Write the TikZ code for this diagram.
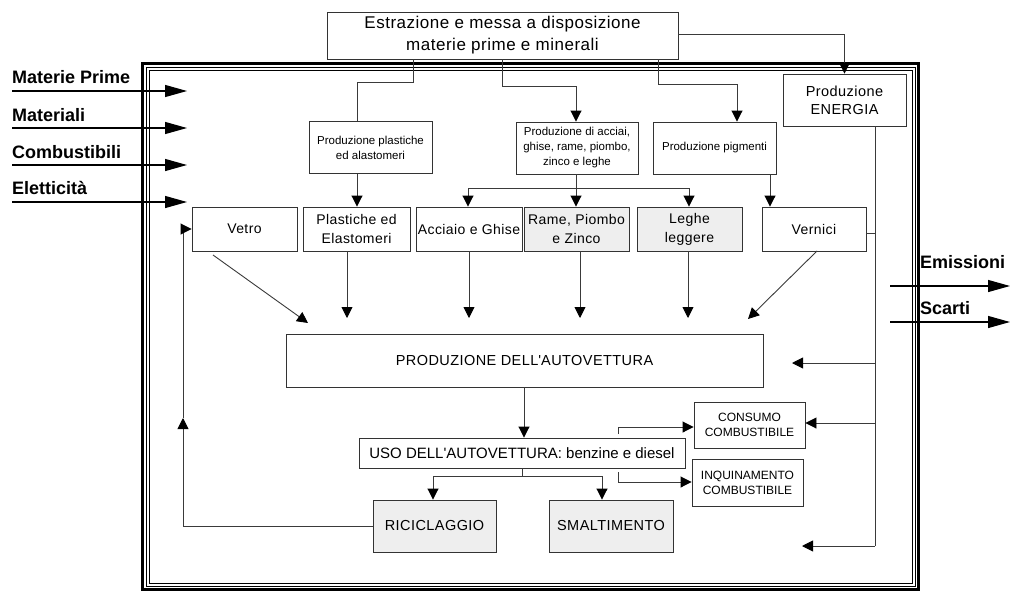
\documentclass[tikz,border=0pt]{standalone}
\usepackage{fontspec}
\setmainfont[LetterSpace=3]{Liberation Sans}
\newfontfamily\lblfont{Liberation Sans}
\usetikzlibrary{arrows.meta,calc}
\definecolor{boxline}{HTML}{333333}
\definecolor{linecol}{HTML}{3A3A3A}
\definecolor{shade}{HTML}{EEEEEE}
\newcommand{\fsz}[2]{\fontsize{#1}{#2}\selectfont}
\tikzset{
  box/.style={draw=boxline, line width=0.9pt, fill=white, inner sep=0pt,
    align=center, text=black},
  shaded/.style={box, fill=shade},
  topbox/.style={box, font=\fsz{17}{22}},
  prodbox/.style={box, minimum width=123pt, minimum height=52pt, font=\lblfont\fsz{11.5}{15}},
  matbox/.style={box, minimum width=105pt, minimum height=44pt, font=\fsz{14}{19}},
  mainbox/.style={box, font=\fsz{14.5}{18}},
  fuelbox/.style={box, minimum width=111pt, minimum height=46pt, font=\lblfont\fsz{12}{15}},
  sidelbl/.style={inner sep=0pt, anchor=west, font=\lblfont\fsz{18}{20}\bfseries},
  line/.style={draw=linecol, line width=0.9pt},
  arrow/.style={line, -{Triangle[length=11pt,width=11pt,color=black]}},
  bigarrow/.style={line, draw=black, line width=1.2pt, -{Triangle[length=22pt,width=12pt]}},
}
\begin{document}
\begin{tikzpicture}[x=1pt, y=-1pt]
  \useasboundingbox (0,0) rectangle (1010,592);

  % frame
  \draw[line width=2.5pt] (142.5,63.5) rectangle (918.5,589.5);
  \draw[line width=0.8pt] (146,67) rectangle (915,586);
  \draw[line width=0.8pt] (149,70) rectangle (912,583);

  % boxes
  \node[topbox, minimum width=351pt, minimum height=47pt] (top) at (502.5,35.5)
    {Estrazione e messa a disposizione\\materie prime e minerali};
  \node[prodbox] (pplast) at (370.5,147.5) {Produzione plastiche\\ed alastomeri};
  \node[prodbox, minimum width=122pt] (pacc) at (577,148)
    {Produzione di acciai,\\ghise, rame, piombo,\\zinco e leghe};
  \node[prodbox] (ppigm) at (714.5,148) {Produzione pigmenti};
  \node[mainbox, minimum width=123pt, minimum height=52pt] (energia) at (844.5,100)
    {Produzione\\ENERGIA};

  \node[matbox] (vetro) at (244.5,229) {Vetro};
  \node[matbox, minimum width=107pt] (plast) at (356.5,229) {Plastiche ed\\Elastomeri};
  \node[matbox, minimum width=106pt] (acc) at (469,229) {Acciaio e Ghise};
  \node[matbox, shaded] (rame) at (576.5,229) {Rame, Piombo\\e Zinco};
  \node[matbox, shaded] (leghe) at (689.5,229) {Leghe\\leggere};
  \node[matbox, minimum width=104pt] (vernici) at (814,229) {Vernici};

  \node[mainbox, minimum width=477pt, minimum height=53pt] (prod) at (524.5,360.5)
    {PRODUZIONE DELL\textquotesingle AUTOVETTURA};
  \node[mainbox, font=\lblfont\fsz{15}{18}, minimum width=326pt, minimum height=30pt] (uso) at (522,453)
    {USO DELL\textquotesingle AUTOVETTURA: benzine e diesel};
  \node[fuelbox] (consumo) at (749.5,425) {CONSUMO\\COMBUSTIBILE};
  \node[fuelbox, minimum height=47pt] (inquin) at (747.5,482.5) {INQUINAMENTO\\COMBUSTIBILE};
  \node[mainbox, shaded, minimum width=123pt, minimum height=52pt] (ricicl) at (434.5,526)
    {RICICLAGGIO};
  \node[mainbox, shaded, minimum width=124pt, minimum height=52pt] (smalt) at (611,526)
    {SMALTIMENTO};

  % inputs and outputs
  \foreach \lbl/\ya/\yb [count=\i] in {Materie Prime/77/91, Materiali/115/128,
      Combustibili/152/165, Eletticità/188/202} {
    \node[sidelbl] (inlbl\i) at (12,\ya) {\lbl};
    \coordinate (insrc\i) at (12,\yb);
    \coordinate (indst\i) at (187,\yb);
    \draw[bigarrow] (insrc\i) -- (indst\i);
  }
  \node[sidelbl] (emlbl) at (920,262) {Emissioni};
  \node[sidelbl] (sclbl) at (920,308) {Scarti};
  \coordinate (emsrc) at (890,286);
  \coordinate (emdst) at (1010,286);
  \coordinate (scsrc) at (890,322);
  \coordinate (scdst) at (1010,322);
  \draw[bigarrow] (emsrc) -- (emdst);
  \draw[bigarrow] (scsrc) -- (scdst);

  % from extraction
  \draw[line] (top.south -| 413,0) -- ++(0,23) -| (pplast.north -| 357,0);
  \draw[arrow] (top.south -| 502,0) -- ++(0,27) -| (pacc.north -| 576,0);
  \draw[arrow] (top.south -| 658,0) -- ++(0,25) -| (ppigm.north -| 737,0);
  \draw[arrow] (top.east |- 0,34) -| (energia.north);

  % to materials
  \draw[arrow] (pplast.south -| 357,0) -- (plast.north -| 357,0);
  \draw[arrow] (pacc.south -| 576,0) -- (rame.north -| 576,0);
  \draw[arrow] (576,188) -| (acc.north -| 468,0);
  \draw[arrow] (576,188) -| (leghe.north -| 689,0);
  \draw[arrow] (ppigm.south -| 770,0) -- (vernici.north -| 770,0);

  % energy
  \coordinate (ebot) at (875,546);
  \coordinate (eprod) at (792,363);
  \coordinate (eend) at (802,546);
  \draw[line] (energia.south -| 875,0) -- (ebot);
  \draw[line] (vernici.east |- 0,233) -- (875,233);
  \draw[arrow] (875,363) -- (eprod);
  \draw[arrow] (875,423) -- (consumo.east |- 0,423);
  \draw[arrow] (ebot) -- (eend);

  % to production
  \coordinate (tvetro) at (308,323);
  \coordinate (tplast) at (347,318);
  \coordinate (tacc) at (469,318);
  \coordinate (trame) at (580,318);
  \coordinate (tleghe) at (688,318);
  \coordinate (tvern) at (748,319);
  \draw[arrow] (213,255) -- (tvetro);
  \draw[arrow] (plast.south -| tplast) -- (tplast);
  \draw[arrow] (acc.south -| tacc) -- (tacc);
  \draw[arrow] (rame.south -| trame) -- (trame);
  \draw[arrow] (leghe.south -| tleghe) -- (tleghe);
  \draw[arrow] (817,251) -- (tvern);

  % use and end of life
  \draw[arrow] (prod.south -| 524,0) -- (uso.north -| 524,0);
  \draw[arrow] (uso.south) -- ++(0,8) -| (ricicl.north -| 433,0);
  \draw[arrow] (uso.south) -- ++(0,8) -| (smalt.north -| 602,0);
  \draw[arrow] (618,434) |- (consumo.west |- 0,427);
  \draw[arrow] (618,472) |- (inquin.west |- 0,482);

  % recycling loop
  \coordinate (fbup) at (183,418);
  \draw[arrow] (ricicl.west) -| (fbup);
  \draw[arrow] (fbup) |- (vetro.west);
\end{tikzpicture}
\end{document}
